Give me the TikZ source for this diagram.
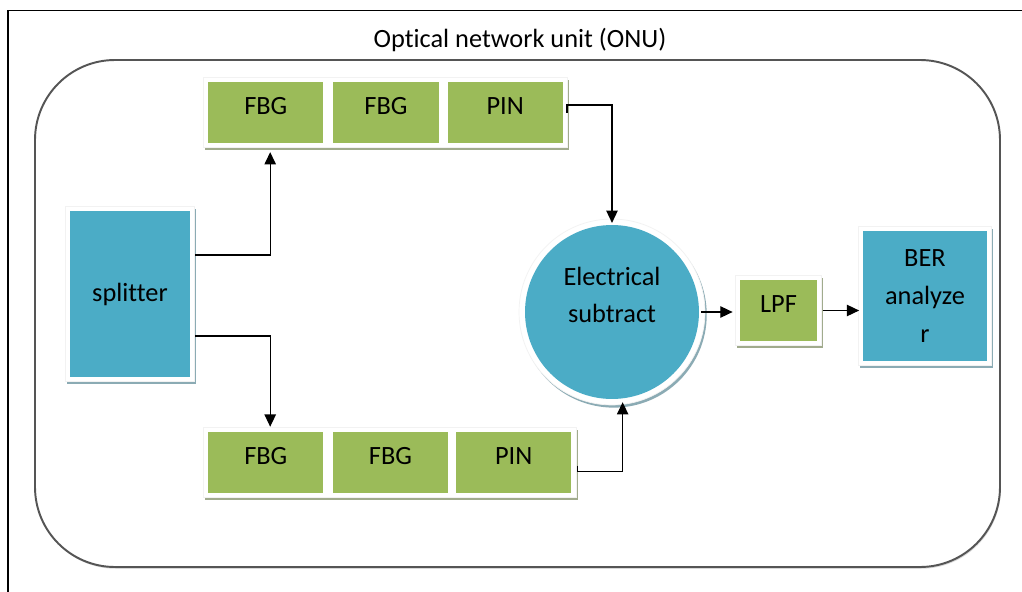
\documentclass[tikz,border=0pt]{standalone}
\usepackage{fontspec}
\setmainfont{Carlito}[Ligatures=NoCommon]
\usepackage{tikz}
\usetikzlibrary{positioning, arrows.meta, fit, calc, backgrounds, shadows}
\definecolor{fbggreen}{RGB}{155,187,89}
\definecolor{unitblue}{RGB}{75,172,198}
\definecolor{framegray}{RGB}{85,85,85}

\begin{document}
\begin{tikzpicture}[x=0.02cm, y=-0.02cm, font=\fontsize{15}{21.5}\selectfont,
    greenbox/.style={fill=fbggreen, minimum width=2.3cm, minimum height=1.22cm, inner sep=0pt,
                     text height=10pt, text depth=7.5pt},
    bluebox/.style={fill=unitblue, align=center, inner sep=0pt},
    card/.style={fill=white, draw=black!5, inner sep=2.5pt,
                 drop shadow={shadow xshift=1pt, shadow yshift=-1.5pt, fill=#1, opacity=0.55}},
    conn/.style={-{Triangle[length=7pt, width=6.5pt]}, line width=0.7pt}]
        \useasboundingbox (0,0) rectangle (1022,592);
        % page frame
        \draw[black, line width=0.6pt] (8,600) -- (8,10.5) -- (1030,10.5);
        \node (title) at (520,40) {Optical network unit (ONU)};

        \node[bluebox, minimum width=2.4cm, minimum height=3.32cm] (spl) at (130,294) {splitter};
        \node[greenbox] (fbgA) at (265.8,112.5) {FBG};
        \node[greenbox, minimum width=2.12cm, right=0.18cm of fbgA] (fbgB) {FBG};
        \node[greenbox, right=0.16cm of fbgB] (pinA) {PIN};
        \node[greenbox] (fbgC) at (265.8,462.5) {FBG};
        \node[greenbox, right=0.18cm of fbgC] (fbgD) {FBG};
        \node[greenbox, right=0.15cm of fbgD] (pinB) {PIN};
        \node[circle, fill=unitblue, minimum size=3.48cm, inner sep=0pt,
              label={[name=subtxt, align=center, yshift=0.34cm]center:Electrical\\subtract}]
              (sub) at (612,312) {};
        \node[greenbox, minimum width=1.54cm] (lpf) at (778.5,310.5) {LPF};
        \node[bluebox, minimum width=2.48cm, minimum height=2.6cm] (ber) at (925,296) {BER\\analyze\\r};

        \begin{scope}[on background layer]
          % ONU outline
          \draw[framegray, fill=white, line width=1.1pt, rounded corners=1.6cm,
                drop shadow={shadow xshift=0.5pt, shadow yshift=-1pt, fill=black!30}]
                (35,60) rectangle (1000,567);
          \node[card=black!45!fbggreen, fit=(fbgA)(pinA)] (rowA) {};
          \node[card=black!45!fbggreen, fit=(fbgC)(pinB)] (rowC) {};
          \node[card=black!40!unitblue, fit=(spl)] (splcard) {};
          \node[card=black!40!unitblue, fit=(ber)] (bercard) {};
          \node[card=black!45!fbggreen, fit=(lpf)] (lpfcard) {};
          \node[card=black!40!unitblue, circle, inner sep=0pt, minimum size=3.72cm] (subcard) at (sub.center) {};
        \end{scope}

        \draw[conn, shorten >=5pt] ($(spl.east)+(5,-39)$) -| ([xshift=2.5pt]fbgA.south);
        \draw[conn, shorten >=2.8pt] ($(spl.east)+(5,42)$) -| ([xshift=2.5pt]fbgC.north);
        \draw[conn, shorten >=1pt] ($(pinA.east)+(4,0)$) -- ++(0,-7.5) -| (sub.north);
        \draw[conn, shorten >=2pt] ($(pinB.east)+(6,3)$) -- ++(0,6) -| (sub.-83);
        \draw[conn, shorten <=1pt, shorten >=4pt] (sub.east) -- (sub.east -| lpf.west);
        \draw[conn, shorten <=3pt, shorten >=2pt] (lpf.east) -- (lpf.east -| ber.west);
      \end{tikzpicture}
\end{document}
